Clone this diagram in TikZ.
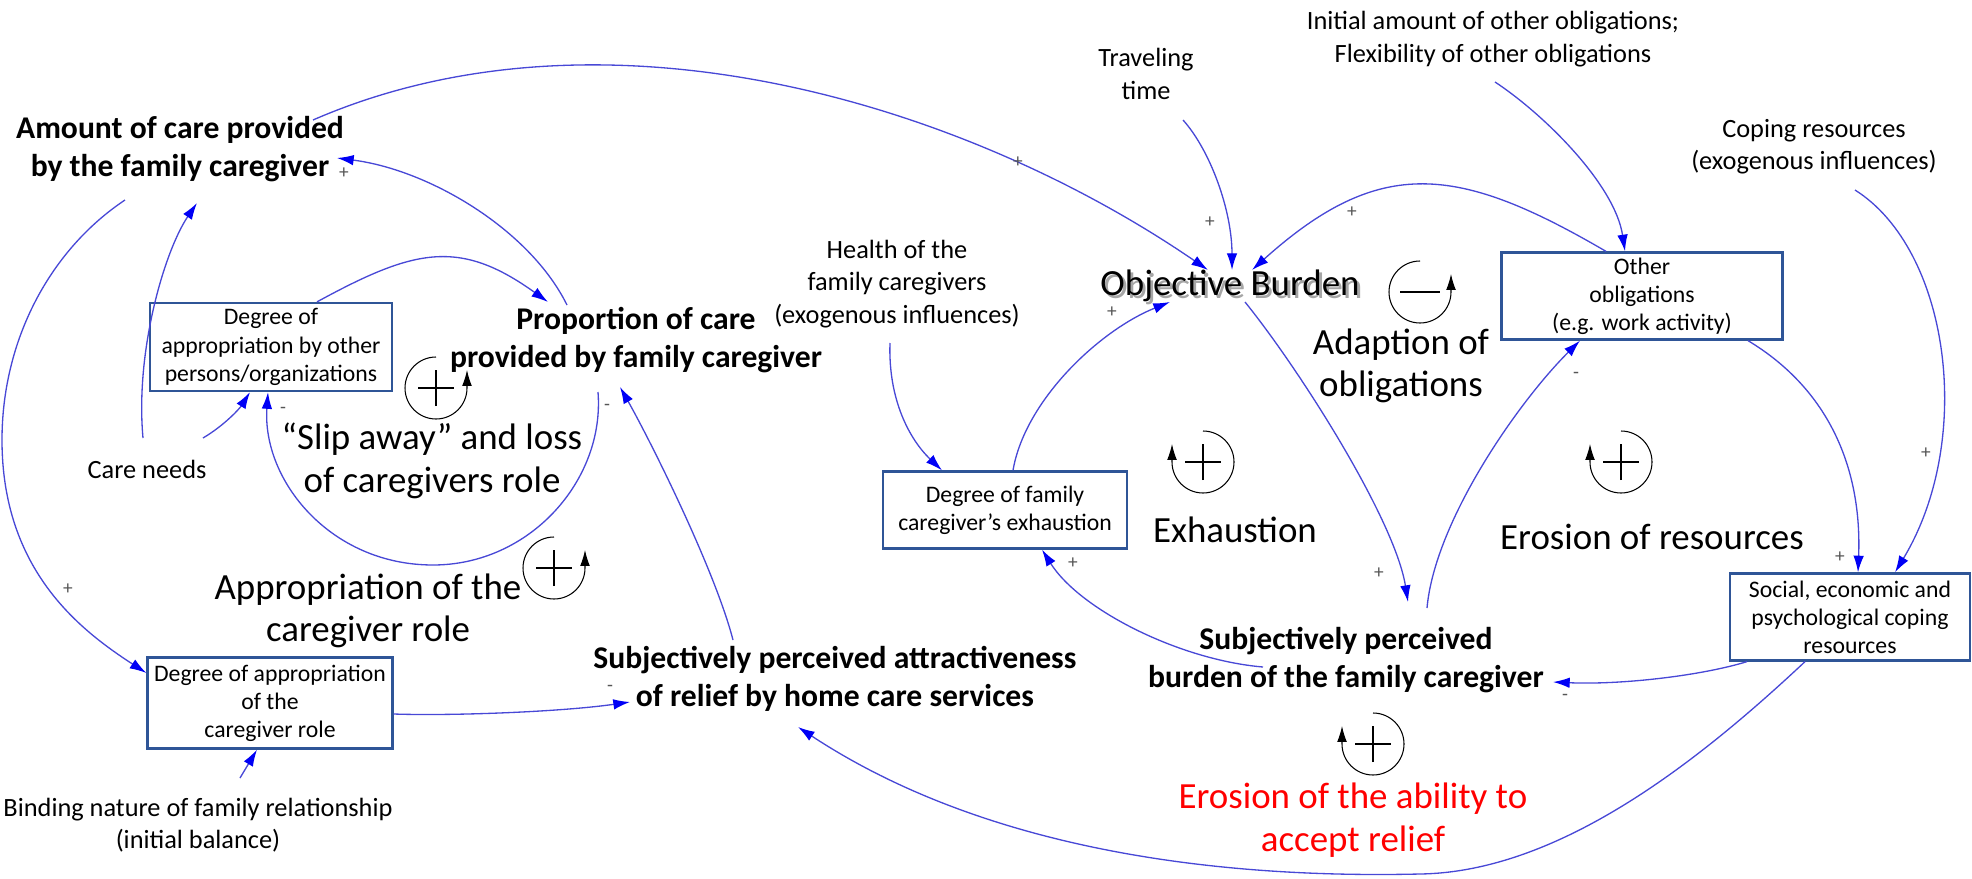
\documentclass[tikz,border=0pt]{standalone}
\usepackage{fontspec}
\setmainfont{Carlito}
\usetikzlibrary{arrows.meta,positioning}
\definecolor{linkblue}{RGB}{72,72,214}
\definecolor{tipblue}{RGB}{0,0,245}
\definecolor{boxblue}{RGB}{47,85,151}
\definecolor{signgray}{RGB}{85,85,85}
\newcommand{\shadowtxt}[1]{\makebox[0pt][l]{\raisebox{-1.6pt}{\hspace{1.6pt}\textcolor{black!35}{#1}}}#1}
\tikzset{
  varbox/.style={
      rectangle, draw=boxblue, line width=1.3pt,
      fill=white, align=center, inner sep=1pt,
      font=\fontsize{13.5}{16}\selectfont,
  },
  var/.style={align=center, inner sep=1pt, font=\fontsize{18}{22}\selectfont\bfseries},
  ext/.style={align=center, inner sep=1pt, font=\fontsize{15}{18.4}\selectfont},
  looplabel/.style={align=center, inner sep=1pt, font=\fontsize{21}{24.3}\selectfont},
  sgn/.style={text=signgray, inner sep=0pt, font=\fontsize{11}{11}\selectfont},
  link/.style={
    draw=linkblue, line width=0.75pt,
    -{Latex[length=9.5pt,width=6pt,color=tipblue]},
  },
  looparc/.style={draw, line width=0.6pt, -{Latex[length=9pt,width=5.5pt]}},
  loopbar/.style={draw, line width=1pt},
  plusright/.pic={
    \begin{scope}[yscale=-1]
    \draw[looparc] (0,31) arc[start angle=90, end angle=360, radius=31] -- ++(0,18);
    \draw[loopbar] (-18,0) -- (18,0) (0,-18) -- (0,18);
    \end{scope}
  },
  plusleft/.pic={
    \begin{scope}[yscale=-1]
    \draw[looparc] (0,31) arc[start angle=90, end angle=-180, radius=31] -- ++(0,18);
    \draw[loopbar] (-18,0) -- (18,0) (0,-18) -- (0,18);
    \end{scope}
  },
  minusright/.pic={
    \begin{scope}[yscale=-1]
    \draw[looparc] (0,31) arc[start angle=90, end angle=360, radius=31] -- ++(0,18);
    \draw[loopbar] (-20,0) -- (20,0);
    \end{scope}
  },
}

\begin{document}
\begin{tikzpicture}[x=0.02cm, y=-0.02cm]
\useasboundingbox (0,0) rectangle (1972,879);

\node [var] (amount) at (180,149) {Amount of care provided\\by the family caregiver};
\node [var] (proportion) at (636,340) {Proportion of care\\provided by family caregiver};
\node [var] (attract) at (835,679) {Subjectively perceived attractiveness\\of relief by home care services};
\node [var] (burden) at (1346,660) {Subjectively perceived\\burden of the family caregiver};
\node [looplabel] (objective) at (1230,287) {\shadowtxt{Objective Burden}};

\node [ext] (careneeds) at (147,469) {Care needs};
\node [ext] (binding) at (198,825) {Binding nature of family relationship\\(initial balance)};
\node [ext] (health) at (897,284) {Health of the\\family caregivers\\(exogenous influences)};
\node [ext] (travel) at (1146,74) {Traveling\\time};
\node [ext] (initial) at (1493,39) {Initial amount of other obligations;\\Flexibility of other obligations};
\node [ext] (coping) at (1814,147) {Coping resources\\(exogenous influences)};

\node [varbox, minimum width=4.84cm, minimum height=1.76cm] (approther) at (271,347) {Degree of\\appropriation by other\\persons/organizations};
\node [varbox, minimum width=4.9cm, minimum height=1.82cm] (approle) at (270,703) {Degree of appropriation\\of the\\caregiver role};
\node [varbox, minimum width=4.88cm, minimum height=1.54cm] (exhaust) at (1005,510) {Degree of family\\caregiver’s exhaustion};
\node [varbox, minimum width=5.62cm, minimum height=1.74cm] (otherobl) at (1642,296) {Other\\obligations\\(e.g. work activity)};
\node [varbox, minimum width=4.8cm, minimum height=1.74cm] (coping res) at (1850,617) {Social, economic and\\psychological coping\\resources};

\node [looplabel] (slipaway) at (432,461) {“Slip away” and loss\\of caregivers role};
\node [looplabel] (approp) at (368,611) {Appropriation of the\\caregiver role};
\node [looplabel] (adaption) at (1401,366) {Adaption of\\obligations};
\node [looplabel] (exhaustion) at (1235,530) {Exhaustion};
\node [looplabel] (erosion) at (1652,537) {Erosion of resources};
\node [looplabel, text=red] (relief) at (1353,820) {Erosion of the ability to\\accept relief};

\pic at (436,388) {plusright};
\pic at (554,568) {plusright};
\pic at (1420,292) {minusright};
\pic at (1203,462) {plusleft};
\pic at (1621,462) {plusleft};
\pic at (1373,744) {plusleft};

\draw [link] ([shift={(133,-29)}]amount.center) .. controls (600,-5) and (960,100) .. ([shift={(-22,-17)}]objective.center);
\draw [link] ([shift={(-69,-35)}]proportion.center) .. controls (530,230) and (430,170) .. ([shift={(157,9)}]amount.center);
\draw [link] ([shift={(-4,-31)}]careneeds.center) .. controls (135,350) and (165,250) .. ([shift={(17,54)}]amount.center);
\draw [link] ([shift={(56,-31)}]careneeds.center) .. controls (225,425) and (240,408) .. ([shift={(-21,0)}]approther.south);
\draw [link] ([shift={(-38,52)}]proportion.center) .. controls (605,480) and (530,565) .. (433,565) .. controls (330,565) and (262,480) .. ([shift={(-3,0)}]approther.south);
\draw [link] ([shift={(46,0)}]approther.north) .. controls (414,249) and (459,238) .. ([shift={(-88,-38)}]proportion.center);
\draw [link] ([shift={(-55,51)}]amount.center) .. controls (50,250) and (2,340) .. (2,440) .. controls (2,570) and (80,630) .. ([shift={(0,-30)}]approle.west);
\draw [link] ([shift={(42,-47)}]binding.center) -- ([shift={(-13,0)}]approle.south);
\draw [link] ([shift={(0,11)}]approle.east) .. controls (450,716) and (560,712) .. ([shift={(-205,23)}]attract.center);
\draw [link] ([shift={(-102,-39)}]attract.center) .. controls (715,570) and (650,440) .. ([shift={(-16,47)}]proportion.center);
\draw [link] ([shift={(-45,0)}]coping res.south) .. controls (1700,760) and (1560,872) .. (1420,874) .. controls (1250,878) and (1000,860) .. ([shift={(-37,48)}]attract.center);
\draw [link] ([shift={(-103,0)}]coping res.south) .. controls (1700,676) and (1620,685) .. ([shift={(207,22)}]burden.center);
\draw [link] ([shift={(41,43)}]coping.center) .. controls (1950,250) and (1975,440) .. ([shift={(45,0)}]coping res.north);
\draw [link] ([shift={(106,0)}]otherobl.south) .. controls (1830,390) and (1862,470) .. ([shift={(8,0)}]coping res.north);
\draw [link] ([shift={(2,43)}]initial.center) .. controls (1545,115) and (1615,185) .. ([shift={(-17,0)}]otherobl.north);
\draw [link] ([shift={(-36,0)}]otherobl.north) .. controls (1458,165) and (1380,155) .. ([shift={(22,-17)}]objective.center);
\draw [link] ([shift={(37,46)}]travel.center) .. controls (1210,150) and (1232,210) .. ([shift={(2,-17)}]objective.center);
\draw [link] ([shift={(15,15)}]objective.center) .. controls (1300,370) and (1395,520) .. ([shift={(62,-58)}]burden.center);
\draw [link] ([shift={(81,-52)}]burden.center) .. controls (1435,520) and (1520,400) .. ([shift={(-62,0)}]otherobl.south);
\draw [link] ([shift={(-83,7)}]burden.center) .. controls (1180,660) and (1080,610) .. ([shift={(37,0)}]exhaust.south);
\draw [link] ([shift={(8,0)}]exhaust.north) .. controls (1025,400) and (1100,330) .. ([shift={(-60,15)}]objective.center);
\draw [link] ([shift={(-7,59)}]health.center) .. controls (888,400) and (910,440) .. ([shift={(-63,0)}]exhaust.north);

\node [sgn] (sg1) at (344,173) {+};
\node [sgn] (sg2) at (68,589) {+};
\node [sgn] (sg3) at (283,410) {-};
\node [sgn] (sg4) at (607,407) {-};
\node [sgn] (sg5) at (610,688) {-};
\node [sgn] (sg6) at (1018,162) {+};
\node [sgn] (sg7) at (1210,222) {+};
\node [sgn] (sg8) at (1352,212) {+};
\node [sgn] (sg9) at (1112,312) {+};
\node [sgn] (sg10) at (1379,573) {+};
\node [sgn] (sg11) at (1073,563) {+};
\node [sgn] (sg12) at (1576,375) {-};
\node [sgn] (sg13) at (1840,557) {+};
\node [sgn] (sg14) at (1926,453) {+};
\node [sgn] (sg15) at (1565,697) {-};
\end{tikzpicture}
\end{document}
